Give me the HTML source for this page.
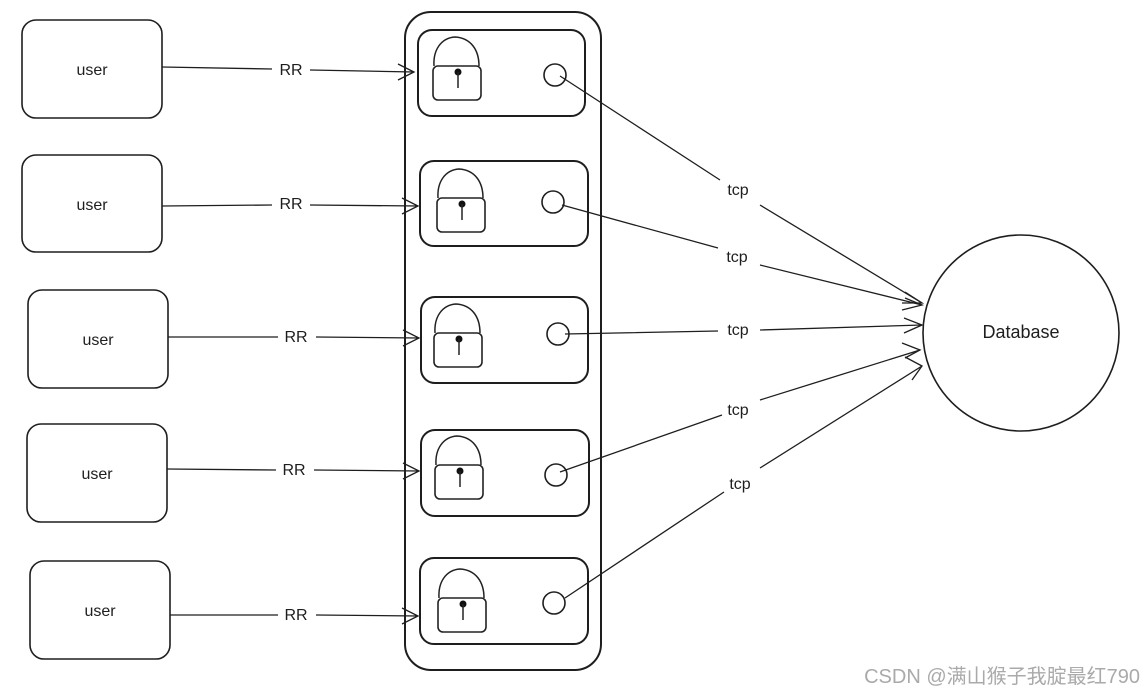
<!DOCTYPE html>
<html><head><style>
body{margin:0;background:#fff;}
svg text{font-family:"Liberation Sans","Noto Sans CJK SC",sans-serif;}
</style></head><body>
<svg width="1145" height="695" viewBox="0 0 1145 695" xmlns="http://www.w3.org/2000/svg">
<defs>
<g id="lock">
<path d="M1,-2 C0,-18 8,-30 22,-31 C38,-30 46,-18 46,-2" fill="none" stroke="#222" stroke-width="1.5"/>
<rect x="0" y="-2" width="48" height="34" rx="5" fill="none" stroke="#222" stroke-width="1.6"/>
<circle cx="25" cy="4" r="3.5" fill="#111"/>
<line x1="25" y1="4" x2="25" y2="20" stroke="#222" stroke-width="1.5"/>
</g>
</defs>
<g fill="none" stroke="#1e1e1e" stroke-width="1.6">
<rect x="22" y="20" width="140" height="98" rx="14"/>
<rect x="22" y="155" width="140" height="97" rx="14"/>
<rect x="28" y="290" width="140" height="98" rx="14"/>
<rect x="27" y="424" width="140" height="98" rx="14"/>
<rect x="30" y="561" width="140" height="98" rx="14"/>
<rect x="405" y="12" width="196" height="658" rx="26" stroke-width="2"/>
<rect x="418" y="30" width="167" height="86" rx="14" stroke-width="2"/>
<rect x="420" y="161" width="168" height="85" rx="14" stroke-width="2"/>
<rect x="421" y="297" width="167" height="86" rx="14" stroke-width="2"/>
<rect x="421" y="430" width="168" height="86" rx="14" stroke-width="2"/>
<rect x="420" y="558" width="168" height="86" rx="14" stroke-width="2"/>
<circle cx="555" cy="75" r="11"/>
<circle cx="553" cy="202" r="11"/>
<circle cx="558" cy="334" r="11"/>
<circle cx="556" cy="475" r="11"/>
<circle cx="554" cy="603" r="11"/>
<circle cx="1021" cy="333" r="98"/>
</g>
<use href="#lock" x="433" y="68"/>
<use href="#lock" x="437" y="200"/>
<use href="#lock" x="434" y="335"/>
<use href="#lock" x="435" y="467"/>
<use href="#lock" x="438" y="600"/>
<g stroke="#1e1e1e" stroke-width="1.3" fill="none">
<path d="M162,67 L272,69 M310,70 L414,72 M398,64 L414,72 L398,80"/>
<path d="M162,206 L272,205 M310,205 L418,206 M402,198 L418,206 L402,214"/>
<path d="M168,337 L278,337 M316,337 L419,338 M403,330 L419,338 L403,346"/>
<path d="M167,469 L276,470 M314,470 L419,471 M403,463 L419,471 L403,479"/>
<path d="M170,615 L278,615 M316,615 L418,616 M402,608 L418,616 L402,624"/>
<path d="M560,76 L720,180 M760,205 L922,303"/>
<path d="M562,205 L718,248 M760,265 L922,305"/>
<path d="M565,334 L718,331 M760,330 L922,325"/>
<path d="M560,472 L722,415 M760,400 L920,350"/>
<path d="M565,598 L724,492 M760,468 L922,366"/>
<path d="M905,292 L922,303 L902,303 M905,298 L922,305 L902,310 M904,318 L922,325 L904,333 M902,343 L920,350 L905,358 M905,357 L922,366 L912,380"/>
</g>
<g font-size="16" fill="#1e1e1e" text-anchor="middle">
<text x="92" y="75">user</text>
<text x="92" y="210">user</text>
<text x="98" y="345">user</text>
<text x="97" y="479">user</text>
<text x="100" y="616">user</text>
<text x="291" y="75">RR</text>
<text x="291" y="209">RR</text>
<text x="296" y="342">RR</text>
<text x="294" y="475">RR</text>
<text x="296" y="620">RR</text>
<text x="738" y="195">tcp</text>
<text x="737" y="262">tcp</text>
<text x="738" y="335">tcp</text>
<text x="738" y="415">tcp</text>
<text x="740" y="489">tcp</text>
<text x="1021" y="338" font-size="18">Database</text>
</g>
<text x="1140" y="683" font-size="20" fill="#aaa" text-anchor="end">CSDN @满山猴子我腚最红790</text>
</svg>
</body></html>
